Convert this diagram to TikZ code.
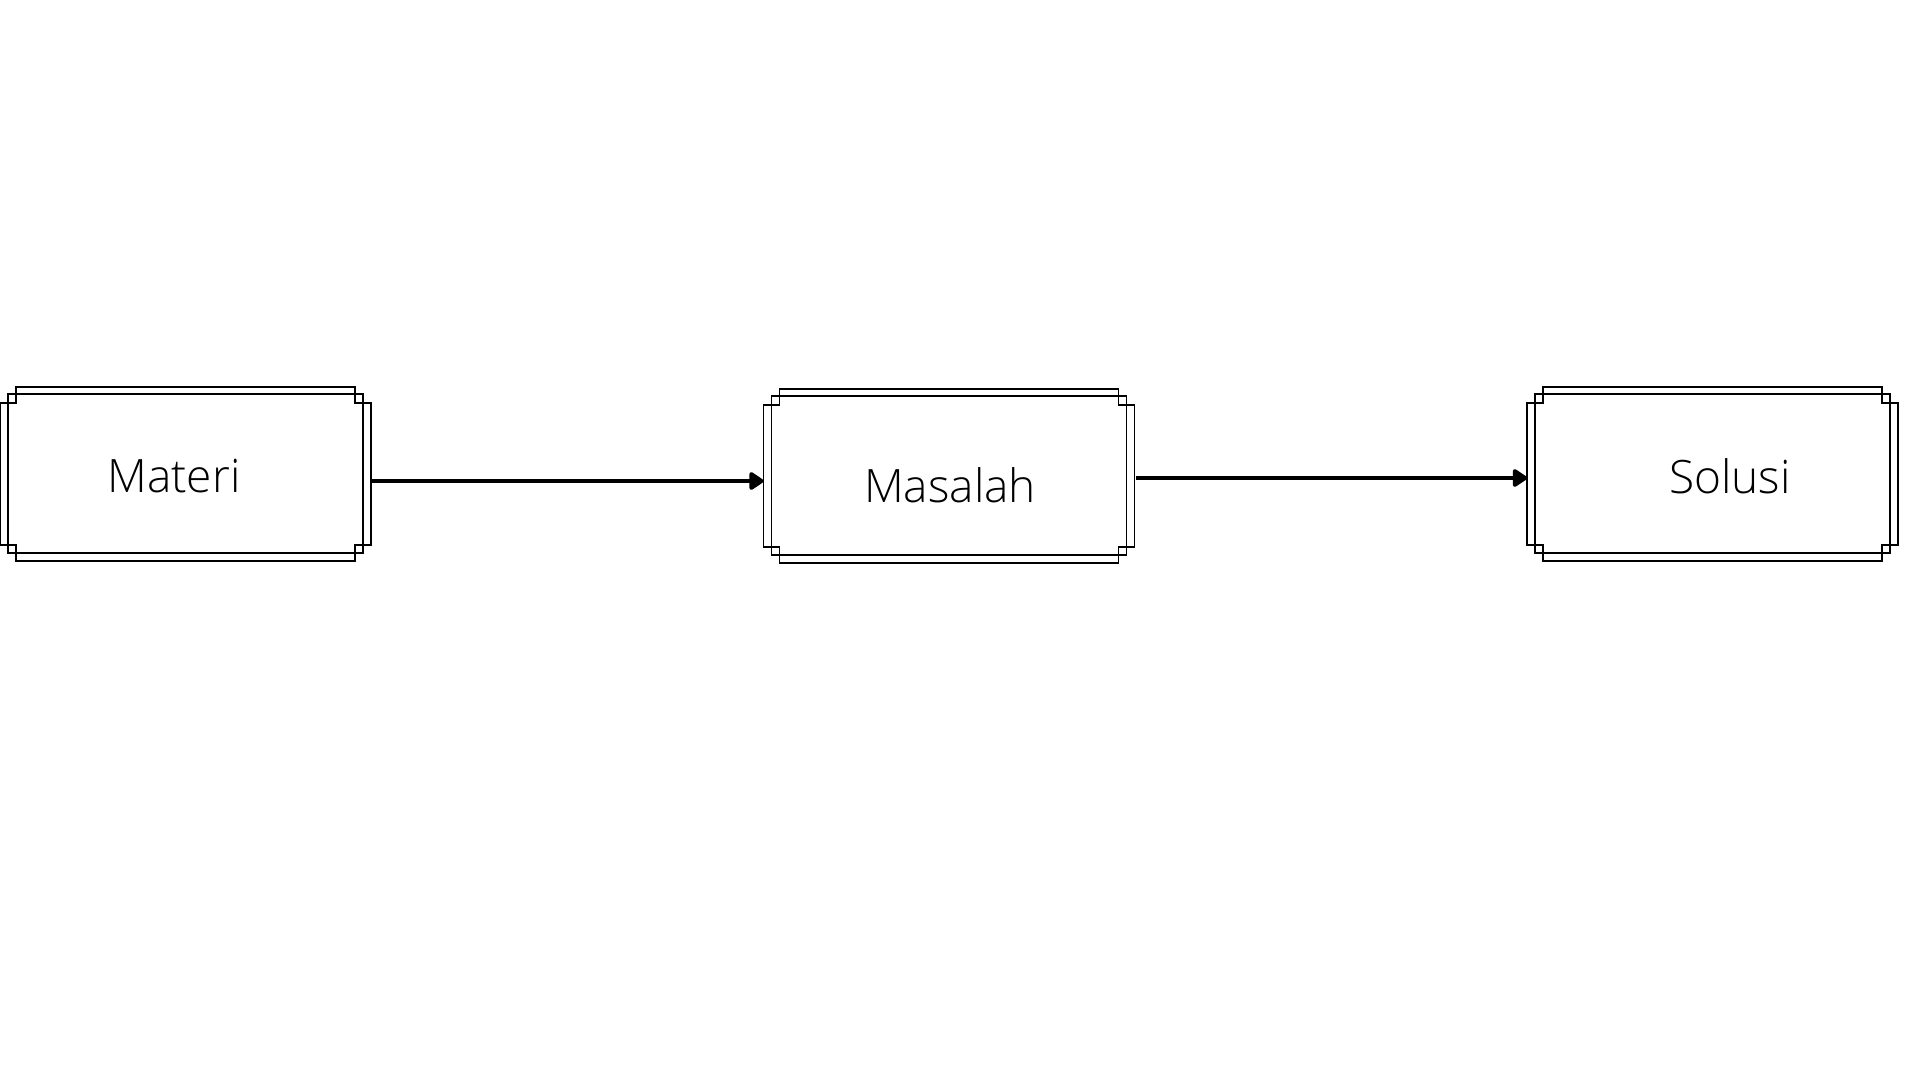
\documentclass[tikz,border=0pt]{standalone}
\usepackage{fontspec}
\setmainfont{Open Sans Light}
\usetikzlibrary{calc,arrows.meta}
\newcommand\dframe[1]{%
  \draw[framestyle] ($(#1.north west)+(16,0)$) -- ($(#1.north east)+(-16,0)$) -- ++(0,16) -- ++(16,0)
    -- ($(#1.south east)+(0,-16)$) -- ++(-16,0) -- ++(0,16) -- ($(#1.south west)+(16,0)$)
    -- ++(0,-16) -- ++(-16,0) -- ($(#1.north west)+(0,16)$) -- ++(16,0) -- cycle;
  \draw[framestyle] ($(#1.north west)+(8,7)$) rectangle ($(#1.south east)+(-8,-8)$);
}
\tikzset{
  framestyle/.style={line width=0.9pt, black, line join=miter},
  boxnode/.style={minimum width=185.5pt, minimum height=87pt, inner sep=0pt, outer sep=0pt},
  label/.style={anchor=base, font=\fontsize{23pt}{27pt}\selectfont, inner sep=0pt},
  arr/.style={line width=2pt, -{Triangle[length=8pt,width=10pt,round]}}
}
\begin{document}
\begin{tikzpicture}[x=0.5pt,y=-0.5pt]
\useasboundingbox[fill=white] (0,0) rectangle (1920,1080);
\node[boxnode] (b1) at (185.5,474) {};
\node[boxnode] (b2) at (949,476) {};
\node[boxnode] (b3) at (1712.5,474) {};
\dframe{b1}
\dframe{b2}
\dframe{b3}
\node[label] (t1) at (174,492) {Materi};
\node[label] (t2) at (950,502) {Masalah};
\node[label] (t3) at (1730,493) {Solusi};
\draw[arr] ($(b1.east)+(1,7)$) -- ($(b2.west)+(0,5)$);
\draw[arr] ($(b2.east)+(1,2)$) -- ($(b3.west)+(0,4)$);
\end{tikzpicture}
\end{document}
